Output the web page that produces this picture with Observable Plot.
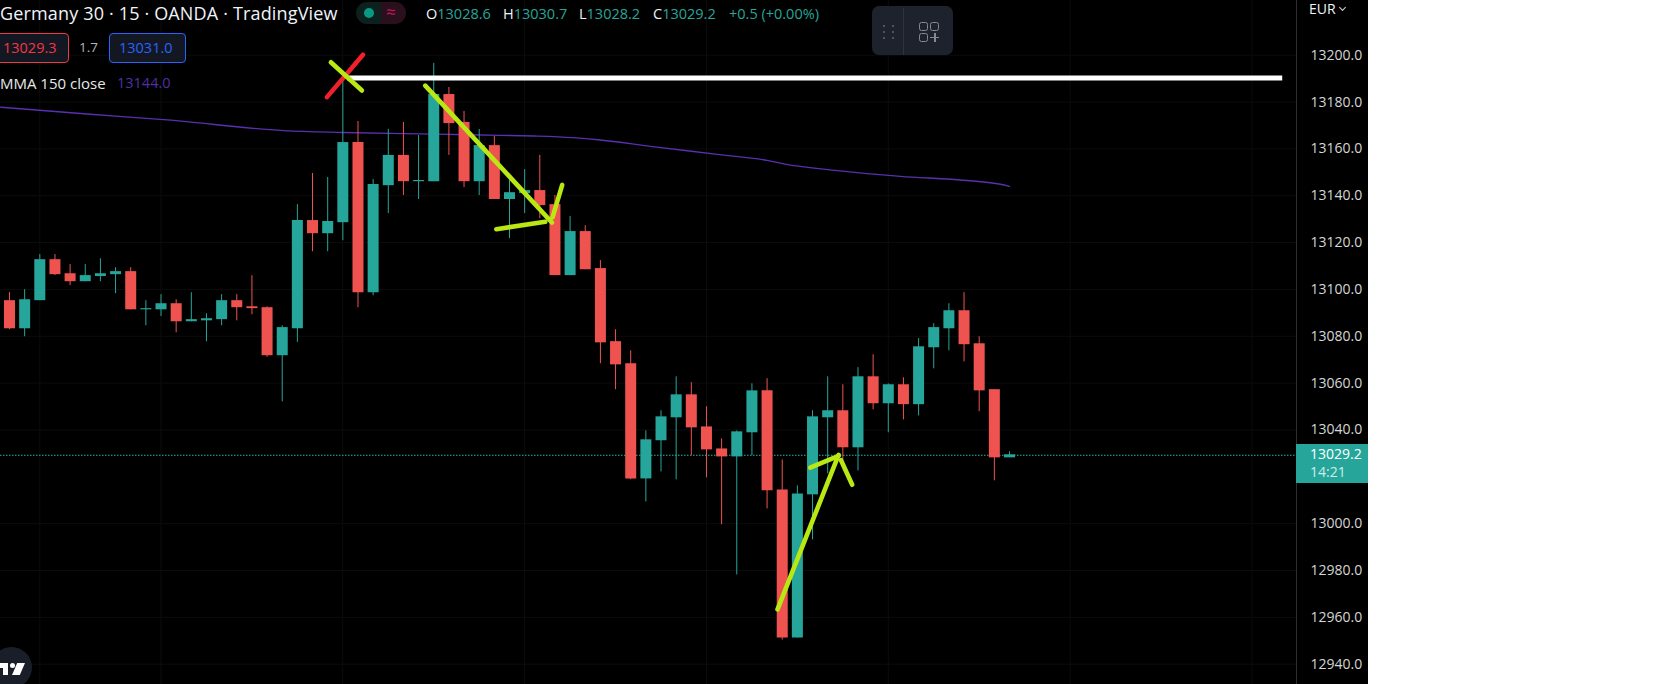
<!DOCTYPE html>
<html><head><meta charset="utf-8">
<script src="https://cdn.jsdelivr.net/npm/d3@7"></script>
<script src="https://cdn.jsdelivr.net/npm/@observablehq/plot@0.6"></script>
<style>
html,body{margin:0;padding:0;background:#fff;overflow:hidden}
#root{position:relative;width:1656px;height:684px;overflow:hidden;font-family:"Open Sans",sans-serif}
#root svg{display:block;max-width:none}
.t{position:absolute;white-space:nowrap;line-height:1}
.box{position:absolute;box-sizing:border-box;border-radius:4px;background:#131722;top:33px;height:30px}
.teal{color:#26a69a}
</style></head><body><div id="root"></div>
<script>
const opens=[13095.2,13083.2,13095.2,13112.7,13106.7,13103.3,13105.5,13106.3,13107.6,13091.3,13091.3,13093.9,13086.2,13086.6,13087.1,13095.2,13092.6,13092.2,13071.7,13083.2,13129.4,13123.8,13128.5,13162.7,13098.6,13144.3,13157.2,13146.0,13146.0,13183.2,13171.3,13146.0,13161.4,13138.4,13140.9,13142.2,13136.2,13105.9,13124.7,13108.9,13077.7,13068.3,13019.1,13035.4,13045.2,13055.0,13041.3,13031.9,13028.5,13038.8,13056.7,13014.4,12951.2,13012.3,13045.2,13048.2,13032.4,13062.7,13051.2,13059.3,13050.8,13075.1,13083.2,13090.9,13076.8,13057.2,13028.1];
const highs=[13098.6,13099.9,13114.9,13114.9,13110.6,13110.6,13113.1,13109.3,13109.3,13095.2,13097.8,13095.6,13098.6,13089.6,13097.8,13097.8,13105.9,13092.6,13084.5,13136.2,13149.5,13147.8,13191.4,13171.7,13146.9,13168.3,13171.3,13165.7,13196.5,13186.2,13176.0,13168.3,13165.3,13146.5,13151.2,13157.2,13140.1,13131.1,13127.2,13112.3,13082.8,13073.8,13039.6,13048.2,13062.7,13060.2,13049.9,13036.2,13039.6,13059.7,13061.9,13027.2,13016.1,13048.2,13062.7,13059.3,13066.6,13072.1,13059.7,13062.3,13079.0,13085.4,13093.9,13098.6,13079.8,13057.2,13030.7];
const lows=[13082.8,13079.8,13095.2,13105.9,13101.6,13103.3,13103.3,13098.2,13091.3,13084.5,13088.4,13081.5,13086.2,13077.7,13084.5,13086.6,13089.2,13071.0,13052.0,13077.4,13116.1,13116.1,13120.8,13092.2,13097.3,13132.4,13140.1,13138.4,13146.0,13157.2,13143.5,13140.1,13138.4,13121.7,13132.4,13130.2,13105.9,13105.9,13108.4,13068.3,13057.2,13018.7,13009.3,13022.1,13018.7,13029.0,13019.6,12999.5,12978.1,13029.0,13006.3,12950.3,12951.2,12993.1,13021.3,13026.8,13022.5,13048.6,13038.8,13044.3,13046.0,13066.1,13073.8,13069.1,13047.8,13018.3,13028.2];
const closes=[13083.2,13095.6,13112.7,13106.3,13103.3,13105.9,13106.7,13107.6,13091.3,13091.8,13093.9,13086.2,13087.1,13087.5,13095.2,13092.2,13091.8,13071.7,13083.7,13129.4,13123.8,13129.0,13162.7,13098.6,13144.8,13157.2,13146.0,13146.5,13183.2,13170.8,13146.0,13161.4,13138.4,13141.3,13142.2,13135.8,13105.9,13124.7,13108.4,13077.2,13067.8,13019.1,13035.8,13045.6,13055.0,13040.9,13031.5,13028.5,13039.2,13056.7,13014.0,12951.2,13012.7,13045.6,13048.2,13032.4,13062.7,13051.2,13059.3,13050.8,13075.5,13083.7,13090.9,13076.4,13056.7,13028.1,13029.4];
const maBars=[-0.6,4.9,10.4,18.1,22,28,32.4,34.6,37.2,39,42.3,46.7,50,51.1,54.8,58.8,63.2,65.4,66];
const maValues=[13177.8,13175,13172.4,13167.8,13167,13166.3,13165.8,13165.5,13164.8,13163.8,13161.1,13157.7,13155.1,13153.6,13150.6,13148.3,13146.5,13144.9,13144];
const priceTicks=[13200,13180,13160,13140,13120,13100,13080,13060,13040,13000,12980,12960,12940];
const gridBars=[2,10,22,34,46,58,70,82];
const lastPrice=13029.2;
const levelBars=[22.3,84], levelPrice=13190.3;
const redX=[[23.33,13200.2,20.95,13182.1]];
const limeStrokes=[
 [21.21,13197.0,23.26,13184.9],
 [27.44,13187.0,35.8,13128.6],[32.13,13125.7,35.36,13128.9],[35.84,13130.8,36.48,13144.6],
 [50.69,12963.4,54.72,13029.4],[52.85,13023.9,54.72,13028.9],[54.88,13027.1,55.62,13016.6]
];
const candles=opens.map((o,i)=>({i,o,h:highs[i],l:lows[i],c:closes[i],dir:closes[i]>=o?"up":"down"}));
const TEAL="#26a69a",RED="#ef5350",LIME="#b9e813",CRIMSON="#f0202c",PURPLE="#5a2fb0";
const seg=(arr,stroke,w)=>Plot.link(arr,{x1:d=>d[0],y1:d=>d[1],x2:d=>d[2],y2:d=>d[3],stroke,strokeWidth:w,strokeLinecap:"round"});
const chart=Plot.plot({
 width:1656,height:684,marginLeft:0,marginRight:360,marginTop:0,marginBottom:0,
 style:{background:"linear-gradient(90deg,#000 0,#000 1368px,#fff 1368px)"},
 x:{domain:[0,66],range:[9,1009],axis:null},
 y:{domain:[12940,13200],range:[663.7,54.7]},
 color:{domain:["up","down"],range:[TEAL,RED]},
 marks:[
  Plot.ruleY(priceTicks,{stroke:"#0c0c0c"}),
  Plot.ruleX(gridBars,{stroke:"#0c0c0c"}),
  Plot.frame({anchor:"right",stroke:"#2e2e2e"}),
  Plot.axisY(priceTicks,{anchor:"right",tickSize:0,tickPadding:14,tickFormat:d3.format(".1f"),label:null,fill:"#d6d6d6",fontSize:14,fontFamily:"Open Sans"}),
  Plot.ruleY([lastPrice],{stroke:"#22b5a6",strokeDasharray:"1.5,1.5"}),
  Plot.line(maBars.map((b,k)=>({b,v:maValues[k]})),{x:"b",y:"v",stroke:PURPLE,strokeWidth:1.3,curve:"monotone-x"}),
  Plot.ruleX(candles,{x:"i",y1:"l",y2:"h",stroke:"dir",strokeWidth:1}),
  Plot.ruleX(candles,{x:"i",y1:"o",y2:"c",stroke:"dir",strokeWidth:11}),
  Plot.link([levelBars],{x1:d=>d[0],x2:d=>d[1],y1:levelPrice,y2:levelPrice,stroke:"#fff",strokeWidth:5}),
  seg(redX,CRIMSON,4.6),
  seg(limeStrokes,LIME,4.6)
 ]
});
const root=document.getElementById("root");
root.appendChild(chart);
function add(html,css,cls){const e=document.createElement("div");e.className=cls||"t";e.style.cssText=css;e.innerHTML=html;root.appendChild(e);return e;}
const W="#f0f3fa";
add("Germany 30 · 15 · OANDA · TradingView",`left:0;top:4px;font-size:18px;letter-spacing:.16px;color:${W}`);
add("",`left:356px;top:2px;width:25px;height:22px;background:#0c201e;border-radius:11px 0 0 11px`,"t");
add("",`left:381px;top:2px;width:25px;height:22px;background:#2a0f1d;border-radius:0 11px 11px 0`,"t");
add("",`left:364px;top:8px;width:10px;height:10px;border-radius:50%;background:#089981`,"t");
add("≈",`left:386px;top:3px;font-size:17px;color:#c2185b`);
[["O","13028.6",426],["H","13030.7",503],["L","13028.2",579],["C","13029.2",653]].forEach(([k,v,x])=>
 add(`<span style="color:${W}">${k}</span><span class="teal">${v}</span>`,`left:${x}px;top:7px;font-size:14.5px`));
add("+0.5 (+0.00%)",`left:729px;top:7px;font-size:14.5px;color:#26a69a`);
add("",`left:-4px;width:73px;border:1px solid #f23645`,"box");
add("13029.3",`left:3px;top:41px;font-size:14.5px;color:#f23645`);
add("1.7",`left:79px;top:41px;font-size:13.5px;color:#b2b5be`);
add("",`left:109px;width:77px;border:1px solid #2962ff`,"box");
add("13031.0",`left:119px;top:41px;font-size:14.5px;color:#2962ff`);
add("MMA 150 close",`left:0;top:76px;font-size:15px;color:#e8e8e8`);
add("13144.0",`left:117px;top:76px;font-size:14.5px;color:#512da8`);
// toolbar
add("",`left:872px;top:6px;width:81px;height:49px;background:#1e222d;border-radius:7px`,"t");
add("",`left:903px;top:8px;width:1px;height:47px;background:#2f333e`,"t");
[883,892].forEach(x=>[25,31,37].forEach(y=>add("",`left:${x}px;top:${y}px;width:2px;height:2px;background:#50535e`,"t")));
[[919,22],[930,22],[919,33]].forEach(([x,y])=>add("",`left:${x}px;top:${y}px;width:9px;height:9px;box-sizing:border-box;border:1.5px solid #868993;border-radius:2.5px`,"t"));
add("",`left:930px;top:36.5px;width:9px;height:1.5px;background:#868993`,"t");
add("",`left:934px;top:33px;width:1.5px;height:9px;background:#868993`,"t");
// axis header and price tag
add("EUR",`left:1309px;top:2px;font-size:14px;color:${W}`);
add("",`left:1339.5px;top:5px;width:4px;height:4px;border-right:1px solid #d6d6d6;border-bottom:1px solid #d6d6d6;transform:rotate(45deg)`,"t");
add("",`left:1296px;top:444px;width:72px;height:39px;background:#26a69a`,"t");
add("13029.2",`left:1310px;top:447px;font-size:14px;color:#fff`);
add("14:21",`left:1310px;top:465px;font-size:14px;color:#cfecea`);
// logo
add("",`left:-9px;top:647px;width:41px;height:41px;border-radius:50%;background:#1a1e29`,"t");
add("",`left:0;top:663px;width:8px;height:5px;background:#fff`,"t");
add("",`left:3px;top:663px;width:5px;height:12px;background:#fff`,"t");
add("",`left:10px;top:663px;width:5px;height:5px;border-radius:50%;background:#fff`,"t");
add("",`left:12px;top:663px;width:13px;height:12px;background:#fff;clip-path:polygon(40% 0,100% 0,60% 100%,0 100%)`,"t");
</script></body></html>
